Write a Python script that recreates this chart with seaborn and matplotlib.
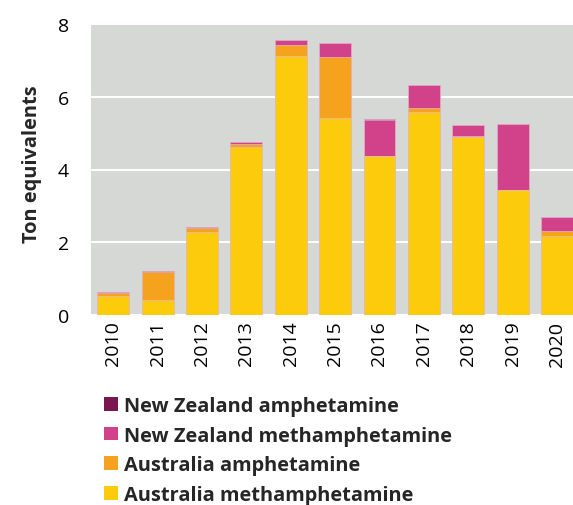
import matplotlib
matplotlib.use("Agg")
import matplotlib.pyplot as plt
import seaborn as sns
import numpy as np
import pandas as pd
from matplotlib.patches import Patch

years = ["2010", "2011", "2012", "2013", "2014", "2015", "2016", "2017", "2018", "2019", "2020"]
au_meth = [0.52, 0.42, 2.28, 4.62, 7.13, 5.42, 4.37, 5.58, 4.90, 3.43, 2.17]
au_amph = [0.08, 0.75, 0.10, 0.08, 0.30, 1.68, 0.00, 0.10, 0.01, 0.00, 0.14]
nz_meth = [0.03, 0.03, 0.03, 0.05, 0.13, 0.37, 0.98, 0.64, 0.31, 1.82, 0.38]
nz_amph = [0.01, 0.00, 0.00, 0.00, 0.00, 0.00, 0.03, 0.00, 0.00, 0.00, 0.00]

series_names = ["Australia methamphetamine", "Australia amphetamine",
                "New Zealand methamphetamine", "New Zealand amphetamine"]
series_vals = [au_meth, au_amph, nz_meth, nz_amph]
colors = ["#FCCB0B", "#F5A21F", "#D1428A", "#7A1650"]

sns.set_theme(style="white")
plt.rcParams['font.family'] = ['Open Sans', 'DejaVu Sans']

fig = plt.figure(figsize=(5.73, 5.06), dpi=100)
ax = fig.add_axes([91/573, 1-316/506, 1-91/573, (316-25)/506])
ax.set_facecolor("#D6D8D5")

cum = np.cumsum(np.array(series_vals), axis=0)
# draw from the top layer down so lower layers overlay upper ones
for i in range(len(series_vals)-1, -1, -1):
    df = pd.DataFrame({"year": years, "value": cum[i]})
    sns.barplot(data=df, x="year", y="value", order=years, color=colors[i],
                saturation=1, width=0.72, errorbar=None, ax=ax,
                edgecolor="#E4B8CC", linewidth=0.5, zorder=3)

ax.set_ylim(0, 8)
ax.set_xlim(-0.5, 10.36)
ax.set_yticks([0, 2, 4, 6, 8])
ax.yaxis.grid(True, color="white", linewidth=1.5, zorder=1)
ax.set_axisbelow(True)
for s in ax.spines.values():
    s.set_visible(False)
ax.tick_params(axis="y", length=0, pad=16, labelsize=14, colors="black")
ax.tick_params(axis="x", length=0, pad=4, labelsize=14, colors="black", labelrotation=90)
ax.set_xlabel("")
ax.set_ylabel("Ton equivalents", fontsize=14.4, fontweight="bold", labelpad=11)
ax.yaxis.label.set_y(0.52)

handles = [Patch(facecolor=colors[i], edgecolor="none") for i in [3, 2, 1, 0]]
labels = [series_names[i] for i in [3, 2, 1, 0]]
fig.legend(handles, labels, loc="upper left", bbox_to_anchor=(0.1815, 0.216),
           frameon=False, prop={"weight": "bold", "size": 14.4},
           handlelength=0.68, handleheight=0.68, handletextpad=0.32,
           labelspacing=0.49, borderaxespad=0, borderpad=0)

fig.savefig("out.png", dpi=100)
